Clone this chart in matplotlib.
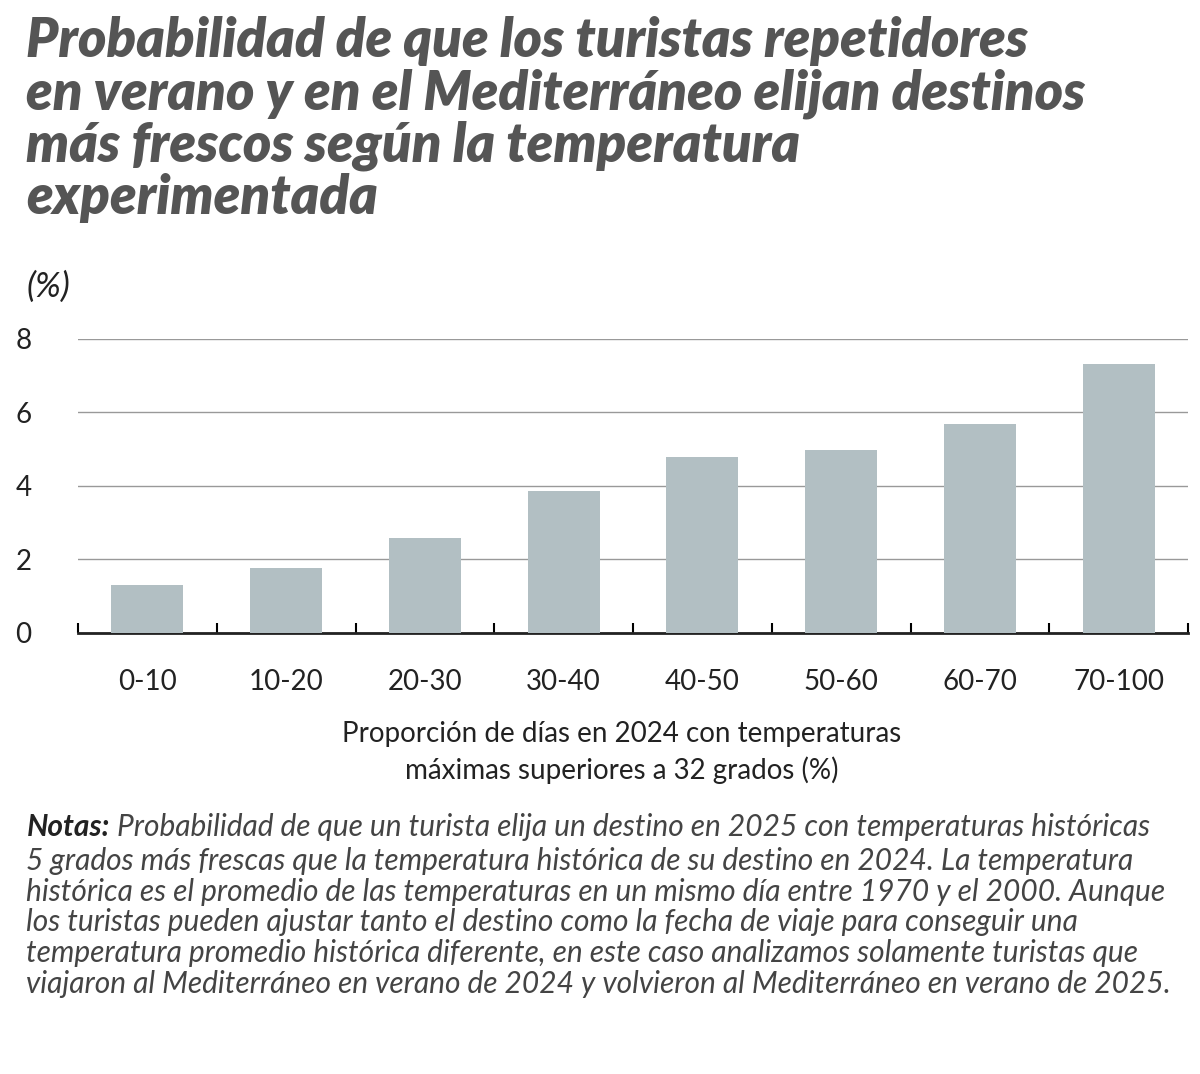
import matplotlib
matplotlib.use("Agg")
import matplotlib.pyplot as plt
import numpy as np

categories = ["0-10", "10-20", "20-30", "30-40", "40-50", "50-60", "60-70", "70-100"]
values = [1.29, 1.75, 2.58, 3.86, 4.77, 4.96, 5.67, 7.32]
yticks = [0, 2, 4, 6, 8]

plt.rcParams['font.family'] = ['Lato', 'DejaVu Sans']
fig = plt.figure(figsize=(12, 10.74), dpi=100)
ax = fig.add_axes([0.065, 0.411, 0.925, 0.2735])
x = np.arange(len(categories))
ax.bar(x, values, width=0.52, color="#b2bfc3", zorder=3)
ax.set_xlim(-0.5, len(categories) - 0.5)
ax.set_ylim(0, 8)
ax.set_yticks(yticks)
ax.set_yticklabels([str(t) for t in yticks], fontsize=20, color="#222")
ax.yaxis.grid(True, color="#999", lw=1, zorder=0)
ax.tick_params(axis='y', length=0, pad=45)
for t in ax.get_yticklabels():
    t.set_horizontalalignment('left')
ax.set_xticks(x)
ax.set_xticklabels(categories, fontsize=20, color="#222")
ax.tick_params(axis='x', length=0, pad=26)
ax.set_xticks(np.arange(-0.5, len(categories)), minor=True)
ax.tick_params(axis='x', which='minor', length=7, width=1.5, direction='in', top=False)
for s in ["left", "right", "top"]:
    ax.spines[s].set_visible(False)
ax.spines["bottom"].set_linewidth(2)
ax.spines["bottom"].set_color("#222")
ax.set_xlabel("Proporción de días en 2024 con temperaturas\nmáximas superiores a 32 grados (%)",
              fontsize=20, color="#222", linespacing=1.45)
ax.xaxis.set_label_coords(0.49, -0.3, transform=ax.transAxes)
ax.xaxis.label.set_verticalalignment('top')

title = ("Probabilidad de que los turistas repetidores\nen verano y en el Mediterráneo elijan destinos\n"
         "más frescos según la temperatura\nexperimentada")
fig.text(0.022, 0.985, title, fontsize=39, fontweight='heavy', fontstyle='italic',
         color="#555", va='top', ha='left', linespacing=1.05)
fig.text(0.022, 0.748, "(%)", fontsize=25, fontstyle='italic', color="#222", va='top')

notes_bold = "Notas:"
notes = (" Probabilidad de que un turista elija un destino en 2025 con temperaturas históricas\n"
         "5 grados más frescas que la temperatura histórica de su destino en 2024. La temperatura\n"
         "histórica es el promedio de las temperaturas en un mismo día entre 1970 y el 2000. Aunque\n"
         "los turistas pueden ajustar tanto el destino como la fecha de viaje para conseguir una\n"
         "temperatura promedio histórica diferente, en este caso analizamos solamente turistas que\n"
         "viajaron al Mediterráneo en verano de 2024 y volvieron al Mediterráneo en verano de 2025.")
fs = 21.5
y0 = 0.243
t = fig.text(0.022, y0, notes_bold, fontsize=fs, fontweight='bold', fontstyle='italic',
             color="#222", va='top')
fig.canvas.draw()
bb = t.get_window_extent()
w = bb.width / fig.bbox.width
lines = notes.split("\n")
fig.text(0.022 + w, y0, lines[0], fontsize=fs, fontstyle='italic', color="#444", va='top')
fig.text(0.022, y0 - 0.0315, "\n".join(lines[1:]), fontsize=fs, fontstyle='italic',
         color="#444", va='top', linespacing=1.12)
fig.savefig("out.png", dpi=100)
